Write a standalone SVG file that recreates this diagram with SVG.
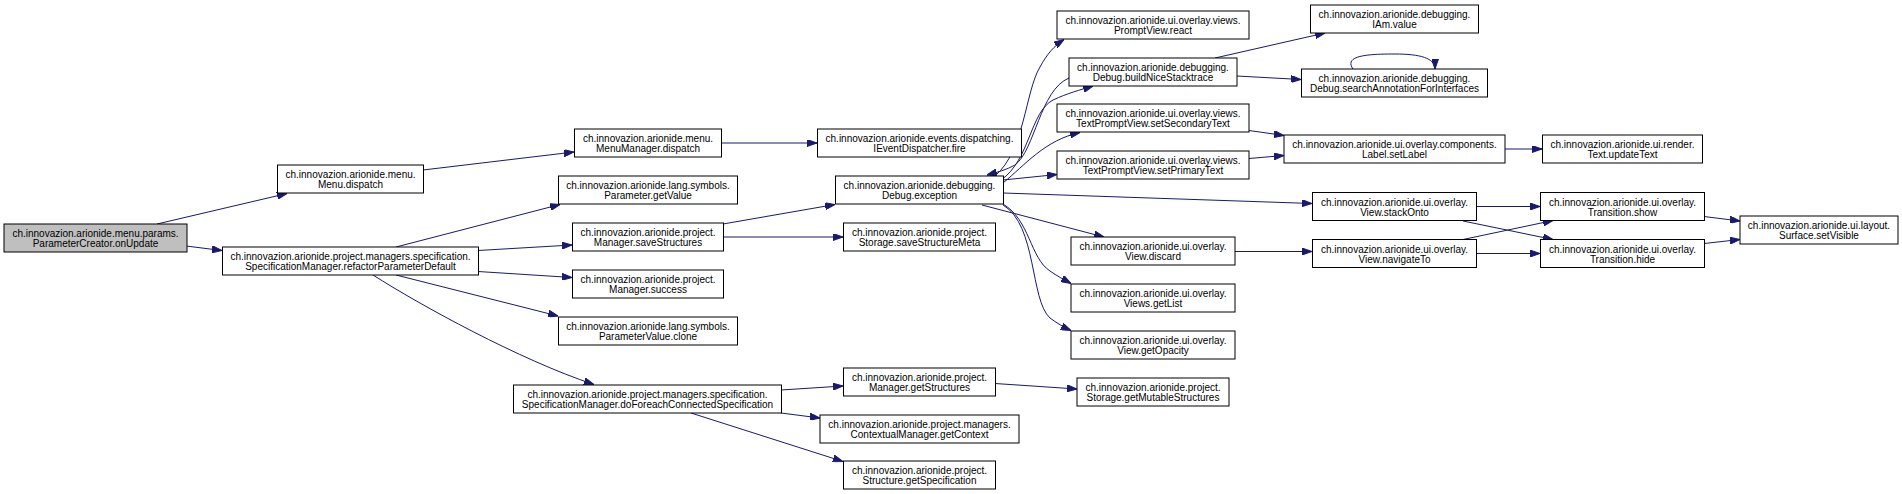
<svg xmlns="http://www.w3.org/2000/svg" width="1902" height="494" viewBox="0 0 1902 494">
<style>
.n rect{fill:#fff;stroke:#000;stroke-width:1}
.n.g rect{fill:#bfbfbf}
.n text{font-family:"Liberation Sans",Arial,sans-serif;font-size:10px;fill:#000;text-anchor:middle}
.e path{fill:none;stroke:#191970;stroke-width:1;marker-end:url(#ah)}
</style>
<defs>
<marker id="ah" viewBox="0 0 10 7" refX="10" refY="3.5" markerWidth="10" markerHeight="7" markerUnits="userSpaceOnUse" orient="auto">
<path d="M0,0 L10,3.5 L0,7 z" fill="#191970" stroke="#191970"/>
</marker>
</defs>
<rect width="1902" height="494" fill="#fff"/>
<g id="edges" class="e">
<path d="M157,224 L287,193.5"/>
<path d="M186,246 L222,250.5"/>
<path d="M423,170 L574,152"/>
<path d="M721,143 L817,143"/>
<path d="M396,247 L560,204.5"/>
<path d="M478,250.5 L572,245"/>
<path d="M478,271.5 L572,277.5"/>
<path d="M396,275 L558,316"/>
<path d="M373,275 C420,305 520,360 594,384.5"/>
<path d="M723,224 L835,204.5"/>
<path d="M723,237 L843,237"/>
<path d="M781,390 L843,386"/>
<path d="M781,413 L820,418"/>
<path d="M691,413 L843,461.5"/>
<path d="M995,383.5 L1077,389"/>
<path d="M995,176 C1025,150 1025,92 1040,67 C1047,54 1054,46 1064,39.5"/>
<path d="M1001,180 C1030,160 1030,112 1053,100 C1068,93 1080,90 1093,86"/>
<path d="M1069,78 C1040,90 1035,150 1015,165 C1006,170 998,172 987,175"/>
<path d="M1003,183 C1025,165 1045,140 1080,132.5"/>
<path d="M1003,180 L1057,174.5"/>
<path d="M1003,193 L1312,203.5"/>
<path d="M982,205 L1104,237"/>
<path d="M1003,204 C1030,220 1030,258 1050,271 C1057,276 1063,279 1071,283.5"/>
<path d="M1003,205 C1037,225 1030,300 1050,318 C1057,323 1063,327 1071,330.5"/>
<path d="M1215,58 L1325,33"/>
<path d="M1237,76 L1301,79.5"/>
<path d="M1353,69 C1343,55 1370,54 1395,54 C1420,54 1435,58 1435,69"/>
<path d="M1249,130.5 L1284,135.5"/>
<path d="M1249,158.5 L1284,155.5"/>
<path d="M1505,149 L1542,149"/>
<path d="M1476,206.5 L1540,206.5"/>
<path d="M1463,221 L1553,239.5"/>
<path d="M1235,251.5 L1312,251.5"/>
<path d="M1463,239.5 L1553,220.5"/>
<path d="M1476,253.5 L1540,253.5"/>
<path d="M1704,216.5 L1740,221"/>
<path d="M1704,243.5 L1740,239.5"/>
</g>
<g id="n_onUpdate" class="n g"><rect x="4" y="224" width="183" height="28"/><text x="95.5" y="237.4">ch.innovazion.arionide.menu.params.</text><text x="95.5" y="247.4">ParameterCreator.onUpdate</text></g>
<g id="n_menu_dispatch" class="n"><rect x="277.5" y="165" width="146" height="28"/><text x="350.5" y="178.4">ch.innovazion.arionide.menu.</text><text x="350.5" y="188.4">Menu.dispatch</text></g>
<g id="n_refactor" class="n"><rect x="222.5" y="247" width="256" height="28"/><text x="350.5" y="260.4">ch.innovazion.arionide.project.managers.specification.</text><text x="350.5" y="270.4">SpecificationManager.refactorParameterDefault</text></g>
<g id="n_menumanager_dispatch" class="n"><rect x="574.5" y="129" width="147" height="28"/><text x="648" y="142.4">ch.innovazion.arionide.menu.</text><text x="648" y="152.4">MenuManager.dispatch</text></g>
<g id="n_getValue" class="n"><rect x="558.5" y="176" width="179" height="28"/><text x="648" y="189.4">ch.innovazion.arionide.lang.symbols.</text><text x="648" y="199.4">Parameter.getValue</text></g>
<g id="n_saveStructures" class="n"><rect x="572.5" y="223" width="151" height="28"/><text x="648" y="236.4">ch.innovazion.arionide.project.</text><text x="648" y="246.4">Manager.saveStructures</text></g>
<g id="n_success" class="n"><rect x="572.5" y="270" width="151" height="28"/><text x="648" y="283.4">ch.innovazion.arionide.project.</text><text x="648" y="293.4">Manager.success</text></g>
<g id="n_clone" class="n"><rect x="558.5" y="317" width="179" height="28"/><text x="648" y="330.4">ch.innovazion.arionide.lang.symbols.</text><text x="648" y="340.4">ParameterValue.clone</text></g>
<g id="n_doForeach" class="n"><rect x="513.5" y="385" width="268" height="28"/><text x="647.5" y="398.4">ch.innovazion.arionide.project.managers.specification.</text><text x="647.5" y="408.4">SpecificationManager.doForeachConnectedSpecification</text></g>
<g id="n_fire" class="n"><rect x="817.5" y="129" width="204" height="28"/><text x="919.5" y="142.4">ch.innovazion.arionide.events.dispatching.</text><text x="919.5" y="152.4">IEventDispatcher.fire</text></g>
<g id="n_exception" class="n"><rect x="835.5" y="176" width="168" height="28"/><text x="919.5" y="189.4">ch.innovazion.arionide.debugging.</text><text x="919.5" y="199.4">Debug.exception</text></g>
<g id="n_saveStructureMeta" class="n"><rect x="843.5" y="223" width="152" height="28"/><text x="919.5" y="236.4">ch.innovazion.arionide.project.</text><text x="919.5" y="246.4">Storage.saveStructureMeta</text></g>
<g id="n_getStructures" class="n"><rect x="843.5" y="368" width="152" height="28"/><text x="919.5" y="381.4">ch.innovazion.arionide.project.</text><text x="919.5" y="391.4">Manager.getStructures</text></g>
<g id="n_getContext" class="n"><rect x="820" y="415" width="199" height="28"/><text x="919.5" y="428.4">ch.innovazion.arionide.project.managers.</text><text x="919.5" y="438.4">ContextualManager.getContext</text></g>
<g id="n_getSpecification" class="n"><rect x="843.5" y="461" width="152" height="28"/><text x="919.5" y="474.4">ch.innovazion.arionide.project.</text><text x="919.5" y="484.4">Structure.getSpecification</text></g>
<g id="n_react" class="n"><rect x="1057" y="11" width="192" height="28"/><text x="1153" y="24.4">ch.innovazion.arionide.ui.overlay.views.</text><text x="1153" y="34.4">PromptView.react</text></g>
<g id="n_buildNiceStacktrace" class="n"><rect x="1069" y="58" width="168" height="28"/><text x="1153" y="71.4">ch.innovazion.arionide.debugging.</text><text x="1153" y="81.4">Debug.buildNiceStacktrace</text></g>
<g id="n_setSecondaryText" class="n"><rect x="1057" y="104" width="192" height="28"/><text x="1153" y="117.4">ch.innovazion.arionide.ui.overlay.views.</text><text x="1153" y="127.4">TextPromptView.setSecondaryText</text></g>
<g id="n_setPrimaryText" class="n"><rect x="1057" y="151" width="192" height="28"/><text x="1153" y="164.4">ch.innovazion.arionide.ui.overlay.views.</text><text x="1153" y="174.4">TextPromptView.setPrimaryText</text></g>
<g id="n_discard" class="n"><rect x="1071" y="237" width="164" height="28"/><text x="1153" y="250.4">ch.innovazion.arionide.ui.overlay.</text><text x="1153" y="260.4">View.discard</text></g>
<g id="n_getList" class="n"><rect x="1071" y="284" width="164" height="28"/><text x="1153" y="297.4">ch.innovazion.arionide.ui.overlay.</text><text x="1153" y="307.4">Views.getList</text></g>
<g id="n_getOpacity" class="n"><rect x="1071" y="331" width="164" height="28"/><text x="1153" y="344.4">ch.innovazion.arionide.ui.overlay.</text><text x="1153" y="354.4">View.getOpacity</text></g>
<g id="n_getMutableStructures" class="n"><rect x="1077" y="378" width="152" height="28"/><text x="1153" y="391.4">ch.innovazion.arionide.project.</text><text x="1153" y="401.4">Storage.getMutableStructures</text></g>
<g id="n_IAm_value" class="n"><rect x="1310.5" y="5" width="168" height="28"/><text x="1394.5" y="18.4">ch.innovazion.arionide.debugging.</text><text x="1394.5" y="28.4">IAm.value</text></g>
<g id="n_searchAnnotation" class="n"><rect x="1301.5" y="69" width="186" height="28"/><text x="1394.5" y="82.4">ch.innovazion.arionide.debugging.</text><text x="1394.5" y="92.4">Debug.searchAnnotationForInterfaces</text></g>
<g id="n_setLabel" class="n"><rect x="1284" y="135" width="221" height="28"/><text x="1394.5" y="148.4">ch.innovazion.arionide.ui.overlay.components.</text><text x="1394.5" y="158.4">Label.setLabel</text></g>
<g id="n_stackOnto" class="n"><rect x="1312.5" y="192.5" width="164" height="28"/><text x="1394.5" y="205.9">ch.innovazion.arionide.ui.overlay.</text><text x="1394.5" y="215.9">View.stackOnto</text></g>
<g id="n_navigateTo" class="n"><rect x="1312.5" y="239.5" width="164" height="28"/><text x="1394.5" y="252.9">ch.innovazion.arionide.ui.overlay.</text><text x="1394.5" y="262.9">View.navigateTo</text></g>
<g id="n_updateText" class="n"><rect x="1542.5" y="135" width="160" height="28"/><text x="1622.5" y="148.4">ch.innovazion.arionide.ui.render.</text><text x="1622.5" y="158.4">Text.updateText</text></g>
<g id="n_show" class="n"><rect x="1540.5" y="192.5" width="164" height="28"/><text x="1622.5" y="205.9">ch.innovazion.arionide.ui.overlay.</text><text x="1622.5" y="215.9">Transition.show</text></g>
<g id="n_hide" class="n"><rect x="1540.5" y="239.5" width="164" height="28"/><text x="1622.5" y="252.9">ch.innovazion.arionide.ui.overlay.</text><text x="1622.5" y="262.9">Transition.hide</text></g>
<g id="n_setVisible" class="n"><rect x="1740" y="216" width="158" height="28"/><text x="1819" y="229.4">ch.innovazion.arionide.ui.layout.</text><text x="1819" y="239.4">Surface.setVisible</text></g>
</svg>
